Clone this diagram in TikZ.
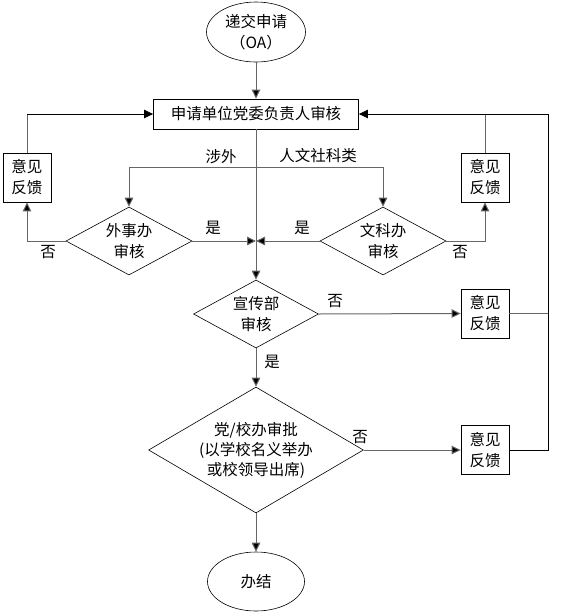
\documentclass[tikz,border=0pt]{standalone}
\usepackage{fontspec}
\setmainfont{Noto Sans CJK SC}
\usetikzlibrary{shapes.geometric,arrows.meta}
\begin{document}
\begin{tikzpicture}[x=1pt,y=-1pt,
  every node/.style={font=\fontsize{15.5}{21}\selectfont, inner sep=0pt},
  term/.style={draw, ellipse, line width=0.6pt, align=center},
  box/.style={draw, rectangle, line width=0.8pt},
  fb/.style={box, minimum width=48pt, minimum height=49pt, align=center},
  dec/.style={draw, diamond, aspect=1.8, line width=0.6pt, align=center},
  tip/.style={-{Triangle[length=9pt,width=8.5pt,fill=black]}},
  conn/.style={draw=gray!80!black, line width=1pt, tip},
  connp/.style={draw=gray!80!black, line width=1pt},
  connb/.style={draw=black, line width=0.8pt},
  connbt/.style={connb, tip}
]
\useasboundingbox (0,0) rectangle (562,614);
\node[term, minimum width=99pt, minimum height=60pt] (start) at (256,32) {递交申请\\（OA）};
\node[box, minimum width=205pt, minimum height=30pt] (b1) at (256,114) {申请单位党委负责人审核};
\node[fb] (fbL) at (27,177.5) {意见\\反馈};
\node[fb] (fbR) at (485,177.5) {意见\\反馈};
\node[dec, minimum width=126pt, minimum height=68pt] (dL) at (129,241) {外事办\\审核};
\node[dec, minimum width=126pt, minimum height=68pt] (dR) at (383,241) {文科办\\审核};
\node[dec, minimum width=125pt, minimum height=68pt] (dM) at (256,314) {宣传部\\审核};
\node[fb] (fb2) at (485,313.5) {意见\\反馈};
\node[dec, minimum width=185pt, minimum height=126pt, font=\fontsize{15.5}{20}\selectfont] (dB) at (256,450) {党/校办审批\\(以学校名义举办\\或校领导出席)};
\node[fb] (fb3) at (485,450) {意见\\反馈};
\node[term, minimum width=97pt, minimum height=59pt] (end) at (256,581.5) {办结};

\coordinate (split) at (256,167);
\coordinate (join) at (256,241);
\coordinate (outer) at (548,114);
\coordinate (splitL) at (129,167);
\coordinate (splitR) at (383,167);
\coordinate (cornL) at (27,114);
\coordinate (cornR) at (485,114);

\draw[conn] (start) -- (b1);
\draw[connp] (b1) -- (split);
\draw[connp] (split) -- (join);
\draw[conn] (join) -- (dM);
\draw[connp] (splitL) -- (splitR);
\draw[conn] (splitL) -- (dL.north);
\draw[conn] (splitR) -- (dR.north);
\node at (221,157) {涉外};
\node at (318,156) {人文社科类};

\draw[conn] (dL.east) -- (join);
\draw[conn] (dR.west) -- (join);
\node at (213,228) {是};
\node at (302,228) {是};

\draw[conn] (dL.west) -| (fbL.south);
\node at (48,252) {否};
\draw[conn] (dR.east) -| (fbR.south);
\node at (460,252) {否};

\draw[connp] (fbL.north) -- (cornL);
\draw[connbt] (cornL) -- (b1.west);
\draw[connp] (fbR.north) -- (cornR);
\draw[connbt] (outer) -- (b1.east);

\draw[conn] (dM.east) -- (fb2.west);
\node at (335,301) {否};
\draw[conn] (dM.south) -- (dB.north);
\node at (272,362) {是};
\draw[conn] (dB.east) -- (fb3.west);
\node at (360,437) {否};
\draw[conn] (dB.south) -- (end.north);

\draw[connp] (fb2.east) -- (fb2.east -| outer);
\draw[connb] (fb3.east) -| (outer);
\end{tikzpicture}
\end{document}
